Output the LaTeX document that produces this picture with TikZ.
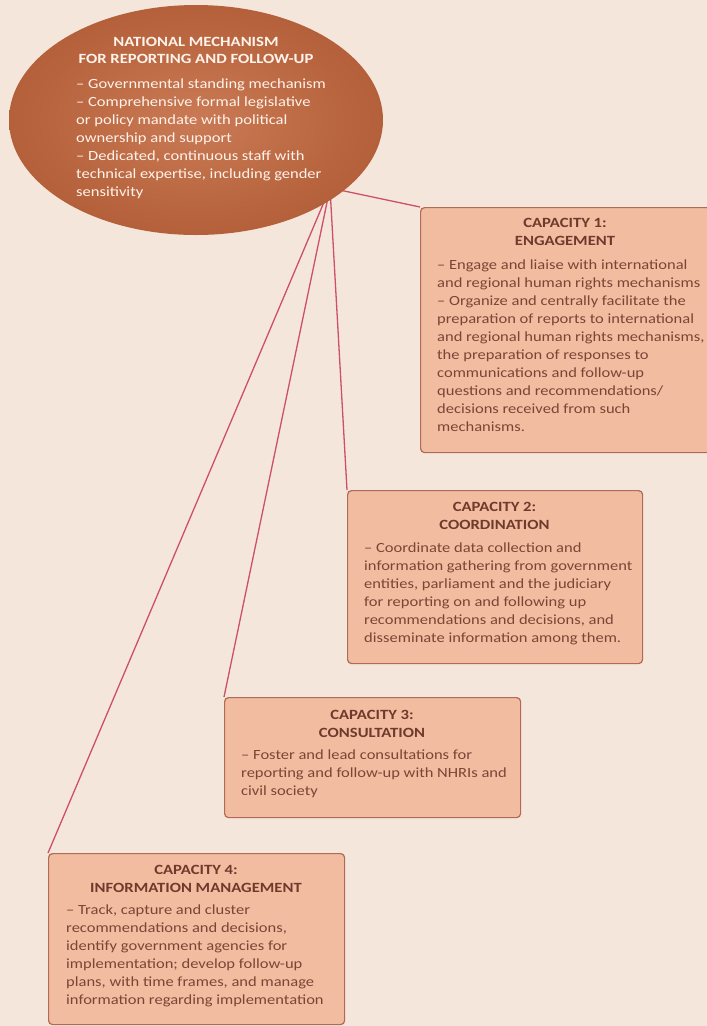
\documentclass[tikz,border=0pt]{standalone}
\usepackage{fontspec}
\setmainfont{Carlito}[FakeStretch=1.18]
\usetikzlibrary{shapes.geometric}
\definecolor{bgcol}{HTML}{F5E6DC}
\definecolor{ellin}{HTML}{C97A54}
\definecolor{ellout}{HTML}{B4603A}
\definecolor{elltext}{HTML}{FFF3EC}
\definecolor{boxfill}{HTML}{F2BCA1}
\definecolor{boxline}{HTML}{B06A55}
\definecolor{linkcol}{HTML}{CC5068}
\definecolor{titlecol}{HTML}{6E3A2C}
\definecolor{bodycol}{HTML}{7A4535}
\pgfdeclarelayer{back}
\pgfsetlayers{back,main}
\begin{document}
\begin{tikzpicture}[x=1pt,y=-1pt,
  capbox/.style={draw=boxline, line width=1.2pt, fill=boxfill, rounded corners=4pt, anchor=north west, inner sep=0pt},
  captitle/.style={font=\bfseries\fontsize{14.1}{18.5}\selectfont, text=titlecol, align=center, anchor=north, inner sep=0pt},
  capbody/.style={font=\fontsize{14}{18}\selectfont, text=bodycol, align=left, anchor=north west, inner sep=0pt},
  elltitle/.style={font=\bfseries\fontsize{14.1}{17}\selectfont, text=elltext, align=center, anchor=north, inner sep=0pt},
  ellbody/.style={font=\fontsize{14}{18}\selectfont, text=elltext, align=left, anchor=north west, inner sep=0pt},
  link/.style={draw=linkcol, line width=1.3pt}]
\useasboundingbox (0,0) rectangle (707,1026);
\begin{pgfonlayer}{back}
\fill[bgcol] (0,0) rectangle (707,1026);
\end{pgfonlayer}

% national mechanism
\node[ellipse, minimum width=374pt, minimum height=230pt, inner sep=0pt,
      inner color=ellin, outer color=ellout] (nm) at (196,120) {};
\node[elltitle] (nmt) at (196,37) {NATIONAL MECHANISM\\FOR REPORTING AND FOLLOW-UP};
\node[ellbody] (nmb) at (76,79) {– Governmental standing mechanism\\
– Comprehensive formal legislative\\
or policy mandate with political\\
ownership and support\\
– Dedicated, continuous staff with\\
technical expertise, including gender\\
sensitivity};

% capacity 1
\node[capbox, minimum width=290pt, minimum height=245pt] (c1) at (420,207) {};
\node[captitle] (c1t) at (565,218) {CAPACITY 1:\\ENGAGEMENT};
\node[capbody] (c1b) at (437,260) {– Engage and liaise with international\\
and regional human rights mechanisms\\
– Organize and centrally facilitate the\\
preparation of reports to international\\
and regional human rights mechanisms,\\
the preparation of responses to\\
communications and follow-up\\
questions and recommendations/\\
decisions received from such\\
mechanisms.};

% capacity 2
\node[capbox, minimum width=295pt, minimum height=173pt] (c2) at (347,490) {};
\node[captitle] (c2t) at (494.5,502) {CAPACITY 2:\\COORDINATION};
\node[capbody] (c2b) at (364,543) {– Coordinate data collection and\\
information gathering from government\\
entities, parliament and the judiciary\\
for reporting on and following up\\
recommendations and decisions, and\\
disseminate information among them.};

% capacity 3
\node[capbox, minimum width=296pt, minimum height=120pt] (c3) at (224,697) {};
\node[captitle] (c3t) at (372,710) {CAPACITY 3:\\CONSULTATION};
\node[capbody] (c3b) at (241,750) {– Foster and lead consultations for\\
reporting and follow-up with NHRIs and\\
civil society};

% capacity 4
\node[capbox, minimum width=296pt, minimum height=171pt] (c4) at (48,853) {};
\node[captitle] (c4t) at (196,865) {CAPACITY 4:\\INFORMATION MANAGEMENT};
\node[capbody] (c4b) at (66,905) {– Track, capture and cluster\\
recommendations and decisions,\\
identify government agencies for\\
implementation; develop follow-up\\
plans, with time frames, and manage\\
information regarding implementation};

% connectors
\coordinate (hub) at (330,188);
\begin{pgfonlayer}{back}
\draw[link] (hub) -- (c1.north west);
\draw[link] (hub) -- (c2.north west);
\draw[link] (hub) -- (c3.north west);
\draw[link] (hub) -- (c4.north west);
\end{pgfonlayer}
\end{tikzpicture}
\end{document}
